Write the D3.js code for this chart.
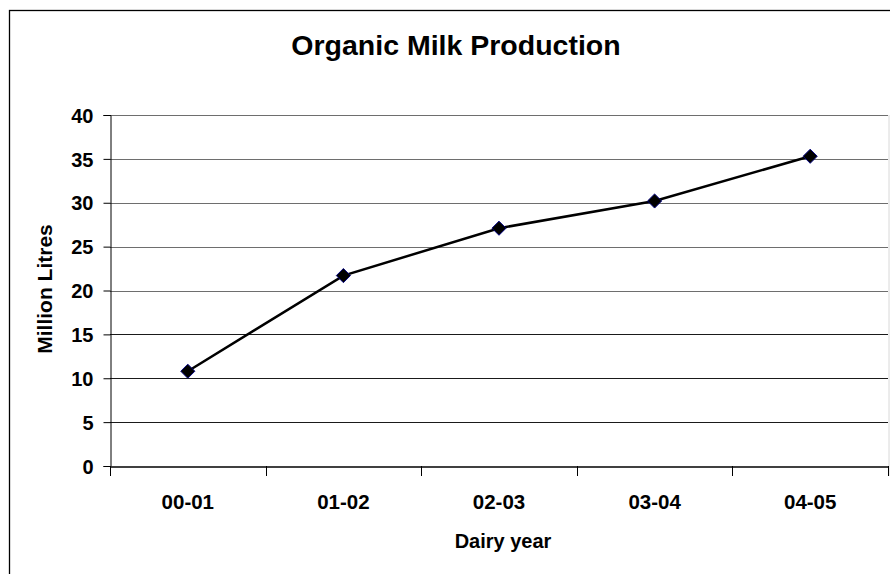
<!DOCTYPE html>
<html><head><meta charset="utf-8">
<script src="https://cdn.jsdelivr.net/npm/d3@7"></script>
<style>body{margin:0;background:#fff}svg{display:block}text{font-family:"Liberation Sans",Arial,sans-serif;font-weight:bold;fill:#000}</style>
</head><body>
<script>
const categories = ["00-01","01-02","02-03","03-04","04-05"];
const values = [10.8, 21.7, 27.1, 30.2, 35.3];
const yTicks = [0,5,10,15,20,25,30,35,40];
const title = "Organic Milk Production";
const xTitle = "Dairy year";
const yTitle = "Million Litres";

const W=890,H=574;
const svg=d3.select("body").append("svg").attr("width",W).attr("height",H);
// outer frame
svg.append("rect").attr("x",9.5).attr("y",10.5).attr("width",W).attr("height",H)
  .attr("fill","none").attr("stroke","#000").attr("stroke-width",1.3);

const m={l:110,r:888,t:115,b:466};
const x=d3.scaleBand().domain(categories).range([m.l,m.r]);
const y=d3.scaleLinear().domain([0,40]).range([m.b,m.t]);

// plot area right border
svg.append("line").attr("x1",m.r+1).attr("x2",m.r+1).attr("y1",m.t).attr("y2",m.b+10)
  .attr("stroke","#d8d8d8");

// gridlines
svg.append("g").selectAll("line").data(yTicks.filter(d=>d>0)).join("line")
  .attr("x1",m.l).attr("x2",m.r).attr("y1",d=>Math.round(y(d))+0.5).attr("y2",d=>Math.round(y(d))+0.5)
  .attr("stroke",d=>d>=20?"#6e6e6e":"#1a1a1a").attr("stroke-width",1);

// y axis
const ya=svg.append("g").attr("transform",`translate(${m.l+0.5},0)`)
  .call(d3.axisLeft(y).tickValues(yTicks).tickSize(7).tickPadding(10));
ya.select(".domain").attr("stroke","#000");
ya.selectAll(".tick line").attr("stroke","#000");
ya.selectAll("text").attr("font-size",20).attr("font-family",null).attr("font-weight",null).attr("dy","0.36em");

// x axis
const xa=svg.append("g").attr("transform",`translate(0,${m.b+0.5})`)
  .call(d3.axisBottom(x).tickSize(0).tickPadding(28));
xa.select(".domain").attr("stroke","#000").attr("stroke-width",1.3);
xa.selectAll("text").attr("font-size",20.5).attr("font-family",null).attr("font-weight",null);
// tick marks between categories
const bounds=categories.map(c=>x(c)).concat([m.r]);
svg.append("g").selectAll("line").data(bounds).join("line")
  .attr("x1",d=>Math.round(d)+0.5).attr("x2",d=>Math.round(d)+0.5)
  .attr("y1",m.b).attr("y2",m.b+10).attr("stroke","#000");

// line
const cx=d=>x(d)+x.bandwidth()/2;
svg.append("path").datum(values)
  .attr("d",d3.line().x((d,i)=>cx(categories[i])).y(d=>y(d)))
  .attr("fill","none").attr("stroke","#000").attr("stroke-width",2.5);
svg.append("g").selectAll("path").data(values).join("path")
  .attr("d",d3.symbol(d3.symbolSquare,100))
  .attr("transform",(d,i)=>`translate(${cx(categories[i])},${y(d)}) rotate(45)`)
  .attr("fill","#000").attr("stroke","#000080").attr("stroke-width",0.9);

// titles
svg.append("text").attr("x",456).attr("y",55).attr("text-anchor","middle").attr("font-size",28.5).text(title);
svg.append("text").attr("x",503).attr("y",548).attr("text-anchor","middle").attr("font-size",20).text(xTitle);
svg.append("text").attr("transform","translate(52,289) rotate(-90)").attr("text-anchor","middle").attr("font-size",21).text(yTitle);
</script>
</body></html>
